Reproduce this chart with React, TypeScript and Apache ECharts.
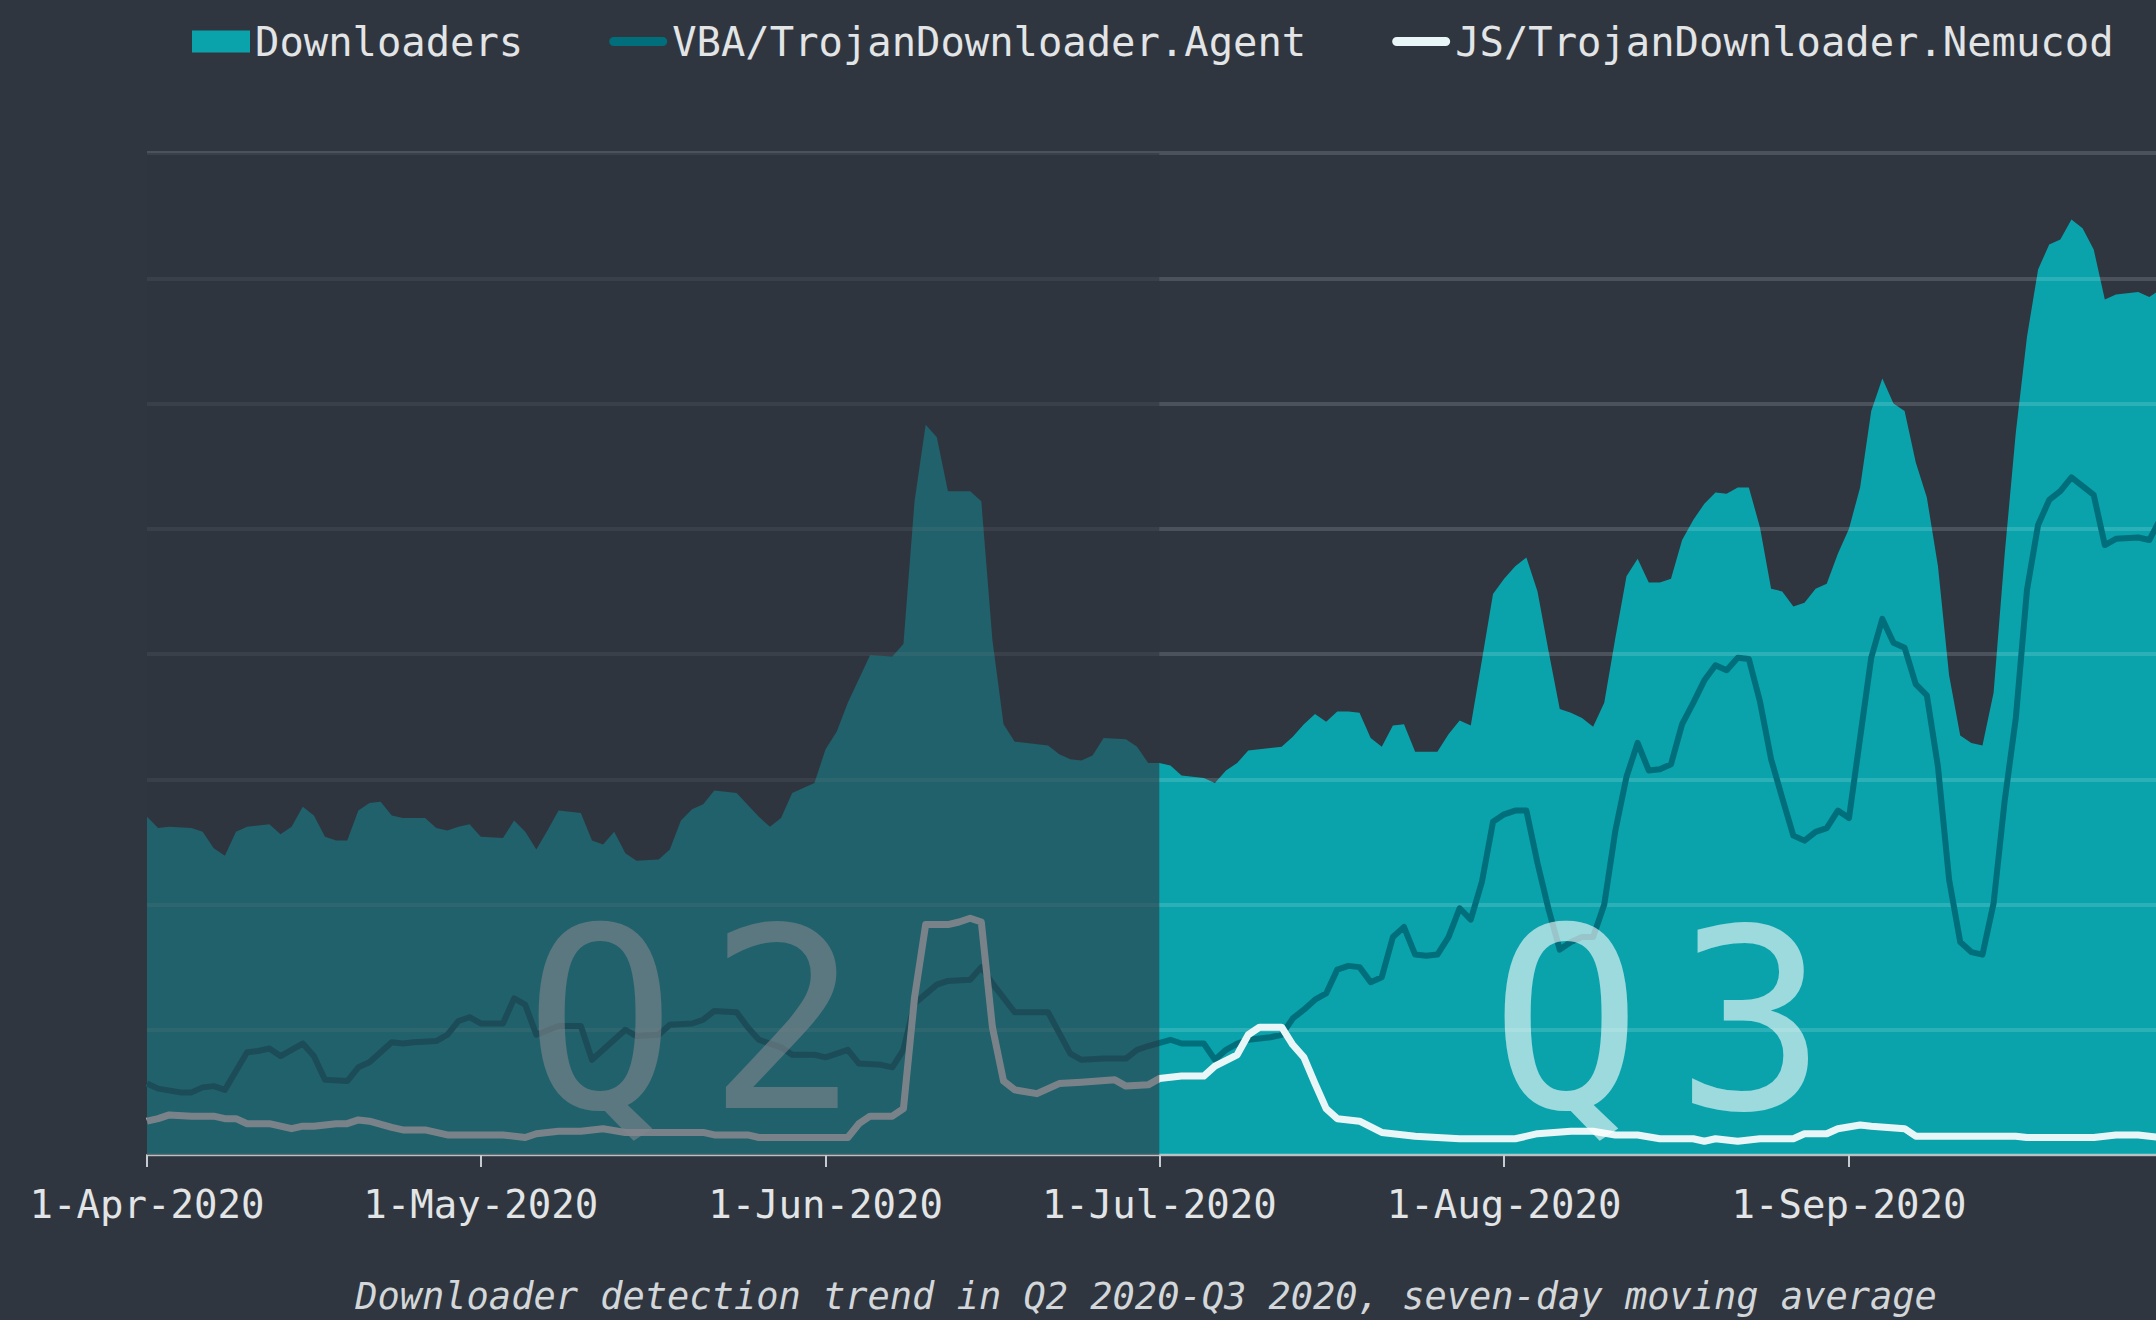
import React, { useEffect, useRef } from 'react';
import * as echarts from 'echarts';

// x values are day offsets from 1-Apr-2020
const monthTickDays = [0, 30, 61, 91, 122, 153];
const monthTickLabels = ['1-Apr-2020', '1-May-2020', '1-Jun-2020', '1-Jul-2020', '1-Aug-2020', '1-Sep-2020'];
const seriesNames = ['Downloaders', 'VBA/TrojanDownloader.Agent', 'JS/TrojanDownloader.Nemucod'];
const caption = 'Downloader detection trend in Q2 2020-Q3 2020, seven-day moving average';
const quarterStartEnd = [0, 91]; // Q2 band (shaded)

const downloaders: [number, number][] = [
  [0, 2.70], [1, 2.61], [2, 2.62], [4, 2.61], [5, 2.58], [6, 2.45], [7, 2.39], [8, 2.58], [9, 2.62], [11, 2.64],
  [12, 2.56], [13, 2.62], [14, 2.78], [15, 2.71], [16, 2.54], [17, 2.51], [18, 2.51], [19, 2.75], [20, 2.81], [21, 2.82],
  [22, 2.71], [23, 2.69], [25, 2.69], [26, 2.61], [27, 2.59], [28, 2.62], [29, 2.64], [30, 2.54], [32, 2.53], [33, 2.67],
  [34, 2.58], [35, 2.44], [36, 2.59], [37, 2.75], [39, 2.73], [40, 2.51], [41, 2.48], [42, 2.58], [43, 2.41], [44, 2.35],
  [46, 2.36], [47, 2.44], [48, 2.67], [49, 2.76], [50, 2.80], [51, 2.91], [53, 2.89], [55, 2.70], [56, 2.62], [57, 2.69],
  [58, 2.89], [60, 2.97], [61, 3.24], [62, 3.38], [63, 3.61], [65, 3.99], [67, 3.98], [68, 4.08], [69, 5.22], [70, 5.83],
  [71, 5.73], [72, 5.30], [74, 5.30], [75, 5.22], [76, 4.11], [77, 3.44], [78, 3.30], [81, 3.27], [82, 3.20], [83, 3.16],
  [84, 3.15], [85, 3.19], [86, 3.33], [88, 3.32], [89, 3.26], [90, 3.13], [91, 3.13], [92, 3.11], [93, 3.03], [95, 3.01],
  [96, 2.97], [97, 3.07], [98, 3.13], [99, 3.23], [101, 3.25], [102, 3.26], [103, 3.34], [104, 3.44], [105, 3.52], [106, 3.46],
  [107, 3.54], [108, 3.54], [109, 3.53], [110, 3.33], [111, 3.26], [112, 3.43], [113, 3.44], [114, 3.22], [116, 3.22], [117, 3.36],
  [118, 3.47], [119, 3.43], [120, 3.95], [121, 4.48], [122, 4.60], [123, 4.70], [124, 4.77], [125, 4.50], [126, 4.02], [127, 3.56],
  [128, 3.53], [129, 3.49], [130, 3.42], [131, 3.61], [132, 4.13], [133, 4.62], [134, 4.76], [135, 4.57], [136, 4.57], [137, 4.60],
  [138, 4.91], [139, 5.07], [140, 5.20], [141, 5.29], [142, 5.28], [143, 5.33], [144, 5.33], [145, 5.01], [146, 4.52], [147, 4.50],
  [148, 4.38], [149, 4.41], [150, 4.52], [151, 4.56], [152, 4.80], [153, 5.00], [154, 5.33], [155, 5.94], [156, 6.20], [157, 6.00],
  [158, 5.94], [159, 5.53], [160, 5.25], [161, 4.70], [162, 3.83], [163, 3.35], [164, 3.29], [165, 3.27], [166, 3.69], [167, 4.80],
  [168, 5.77], [169, 6.53], [170, 7.07], [171, 7.27], [172, 7.31], [173, 7.47], [174, 7.40], [175, 7.23], [176, 6.83], [177, 6.87],
  [179, 6.89], [180, 6.85], [181, 6.91],
];

const vbaAgent: [number, number][] = [
  [0, 0.57], [1, 0.53], [3, 0.50], [4, 0.50], [5, 0.54], [6, 0.55], [7, 0.52], [8, 0.67], [9, 0.82], [10, 0.83],
  [11, 0.85], [12, 0.79], [14, 0.89], [15, 0.79], [16, 0.60], [18, 0.59], [19, 0.70], [20, 0.74], [22, 0.90], [23, 0.89],
  [24, 0.90], [26, 0.91], [27, 0.96], [28, 1.07], [29, 1.10], [30, 1.05], [32, 1.05], [33, 1.25], [34, 1.20], [35, 0.96],
  [37, 1.03], [39, 1.03], [40, 0.76], [43, 1.00], [44, 0.95], [46, 0.96], [47, 1.04], [49, 1.05], [50, 1.08], [51, 1.15],
  [53, 1.14], [54, 1.02], [55, 0.92], [57, 0.86], [58, 0.80], [60, 0.80], [61, 0.78], [63, 0.84], [64, 0.73], [66, 0.72],
  [67, 0.70], [68, 0.84], [69, 1.21], [71, 1.36], [72, 1.39], [74, 1.40], [75, 1.50], [76, 1.37], [78, 1.14], [81, 1.14],
  [83, 0.81], [84, 0.76], [86, 0.77], [88, 0.77], [89, 0.84], [90, 0.87], [92, 0.92], [93, 0.89], [95, 0.89], [96, 0.76],
  [97, 0.84], [98, 0.89], [99, 0.92], [101, 0.94], [102, 0.96], [103, 1.09], [104, 1.16], [105, 1.24], [106, 1.29], [107, 1.48],
  [108, 1.51], [109, 1.50], [110, 1.38], [111, 1.42], [112, 1.74], [113, 1.82], [114, 1.60], [115, 1.59], [116, 1.60], [117, 1.74],
  [118, 1.97], [119, 1.88], [120, 2.18], [121, 2.66], [122, 2.72], [123, 2.75], [124, 2.75], [125, 2.33], [126, 1.96], [127, 1.64],
  [128, 1.70], [129, 1.74], [130, 1.74], [131, 2.00], [132, 2.59], [133, 3.02], [134, 3.29], [135, 3.07], [136, 3.08], [137, 3.12],
  [138, 3.44], [139, 3.61], [140, 3.79], [141, 3.91], [142, 3.87], [143, 3.97], [144, 3.96], [145, 3.62], [146, 3.16], [147, 2.85],
  [148, 2.55], [149, 2.51], [150, 2.58], [151, 2.61], [152, 2.75], [153, 2.69], [155, 3.97], [156, 4.28], [157, 4.09], [158, 4.05],
  [159, 3.76], [160, 3.67], [161, 3.10], [162, 2.20], [163, 1.70], [164, 1.62], [165, 1.60], [166, 2.01], [167, 2.83], [168, 3.49],
  [169, 4.51], [170, 5.03], [171, 5.23], [172, 5.30], [173, 5.41], [174, 5.34], [175, 5.27], [176, 4.87], [177, 4.92], [179, 4.93],
  [180, 4.91], [181, 5.08],
];

const jsNemucod: [number, number][] = [
  [0, 0.27], [1, 0.29], [2, 0.32], [4, 0.31], [6, 0.31], [7, 0.29], [8, 0.29], [9, 0.25], [11, 0.25], [13, 0.21],
  [14, 0.23], [15, 0.23], [17, 0.25], [18, 0.25], [19, 0.28], [20, 0.27], [22, 0.22], [23, 0.20], [25, 0.20], [27, 0.16],
  [29, 0.16], [32, 0.16], [34, 0.14], [35, 0.17], [37, 0.19], [39, 0.19], [41, 0.21], [43, 0.18], [46, 0.18], [50, 0.18],
  [51, 0.16], [54, 0.16], [55, 0.14], [59, 0.14], [63, 0.14], [64, 0.25], [65, 0.31], [67, 0.31], [68, 0.37], [69, 1.26],
  [70, 1.84], [72, 1.84], [73, 1.86], [74, 1.89], [75, 1.86], [76, 1.02], [77, 0.59], [78, 0.52], [80, 0.49], [82, 0.57],
  [84, 0.58], [87, 0.60], [88, 0.55], [90, 0.56], [91, 0.61], [93, 0.63], [95, 0.63], [96, 0.71], [98, 0.80], [99, 0.96],
  [100, 1.02], [102, 1.02], [103, 0.88], [104, 0.78], [105, 0.57], [106, 0.37], [107, 0.29], [109, 0.27], [111, 0.18], [114, 0.15],
  [118, 0.13], [123, 0.13], [125, 0.17], [128, 0.19], [130, 0.19], [132, 0.16], [134, 0.16], [136, 0.13], [139, 0.13], [140, 0.11],
  [141, 0.13], [143, 0.11], [145, 0.13], [148, 0.13], [149, 0.17], [151, 0.17], [152, 0.21], [154, 0.24], [155, 0.23], [158, 0.21],
  [159, 0.15], [160, 0.15], [168, 0.15], [169, 0.14], [175, 0.14], [177, 0.16], [179, 0.16], [181, 0.14],
];

const Y_MAX = 8;
const FONT = '"DejaVu Sans Mono", "Liberation Mono", monospace';
const BG = '#2f3640';
const C_AREA = '#0aa3ac';
const C_VBA = '#006f7b';
const C_JS = '#e9f6f7';
const LINE_ICON = 'path://M4.75,0H55.25A4.75,4.75 0 0 1 55.25,9.5H4.75A4.75,4.75 0 0 1 4.75,0Z';

export default function App() {
  const ref = useRef<HTMLDivElement>(null);
  useEffect(() => {
    const chart = echarts.init(ref.current as HTMLDivElement, null, { renderer: 'svg' });
    const qStyle = { fontSize: 252, fontFamily: FONT, fill: 'rgba(255,255,255,0.6)', align: 'center', verticalAlign: 'middle' };
    const option: any = {
      animation: false,
      backgroundColor: BG,
      textStyle: { fontFamily: FONT },
      grid: { left: 147, right: 0, top: 153, bottom: 165, containLabel: false },
      legend: {
        left: 187,
        top: 16,
        itemWidth: 58,
        itemHeight: 22,
        itemGap: 86,
        selectedMode: false,
        textStyle: { color: '#e2e4e5', fontSize: 40.5, fontFamily: FONT },
        data: [
          { name: seriesNames[0], icon: 'rect', itemStyle: { color: C_AREA, borderWidth: 0 } },
          { name: seriesNames[1], icon: LINE_ICON, itemStyle: { color: C_VBA, borderWidth: 0 } },
          { name: seriesNames[2], icon: LINE_ICON, itemStyle: { color: C_JS, borderWidth: 0 } },
        ],
      },
      xAxis: {
        type: 'value',
        min: 0,
        max: 180.6,
        z: 4,
        axisLine: { show: true, lineStyle: { color: '#b9c1c5', width: 2 } },
        axisTick: { show: true, customValues: monthTickDays, length: 12, lineStyle: { color: '#c5cbce', width: 2 } },
        axisLabel: {
          customValues: monthTickDays,
          formatter: (v: number) => monthTickLabels[monthTickDays.indexOf(v)] ?? '',
          color: '#e2e4e5',
          fontSize: 39,
          fontFamily: FONT,
          margin: 30,
        },
        splitLine: { show: false },
      },
      yAxis: {
        type: 'value',
        min: 0,
        max: Y_MAX,
        interval: 1,
        z: 1.5,
        axisLabel: { show: false },
        axisLine: { show: false },
        axisTick: { show: false },
        splitLine: { show: true, lineStyle: { color: 'rgba(255,255,255,0.14)', width: 4 } },
      },
      graphic: [
        { type: 'text', z: 3, x: 600, y: 1020, style: { ...qStyle, text: 'Q' } },
        { type: 'text', z: 3, x: 783, y: 1020, style: { ...qStyle, text: '2' } },
        { type: 'text', z: 3, x: 1566, y: 1020, style: { ...qStyle, text: 'Q' } },
        { type: 'text', z: 3, x: 1751, y: 1020, style: { ...qStyle, text: '3' } },
        {
          type: 'text', z: 6, x: 1146, y: 1296,
          style: { text: caption, fontSize: 37, fontStyle: 'italic', fontFamily: FONT, fill: '#d3d7d9', align: 'center', verticalAlign: 'middle' },
        },
      ],
      series: [
        {
          name: seriesNames[0], type: 'line', data: downloaders, symbol: 'none', z: 1,
          color: C_AREA, lineStyle: { width: 0, opacity: 0 }, areaStyle: { color: C_AREA, opacity: 1 },
        },
        {
          name: seriesNames[1], type: 'line', data: vbaAgent, symbol: 'none', z: 2,
          color: C_VBA, lineStyle: { color: C_VBA, width: 6, join: 'round' },
        },
        {
          name: seriesNames[2], type: 'line', data: jsNemucod, symbol: 'none', z: 2,
          color: C_JS, lineStyle: { color: C_JS, width: 7, join: 'round' },
        },
        {
          type: 'custom', z: 5, silent: true, clip: false,
          data: [[quarterStartEnd[0], quarterStartEnd[1], 0, Y_MAX]],
          encode: { x: [0, 1], y: [2, 3] },
          renderItem: (_params: any, api: any) => {
            const a = api.coord([api.value(0), api.value(3)]);
            const b = api.coord([api.value(1), api.value(2)]);
            return {
              type: 'rect',
              shape: { x: a[0], y: a[1], width: b[0] - a[0], height: b[1] - a[1] },
              style: { fill: 'rgba(47,54,64,0.6)' },
            };
          },
        },
      ],
    };
    chart.setOption(option);
    return () => chart.dispose();
  }, []);
  return <div ref={ref} style={{ position: 'fixed', left: 0, top: 0, width: 2156, height: 1320 }} />;
}
